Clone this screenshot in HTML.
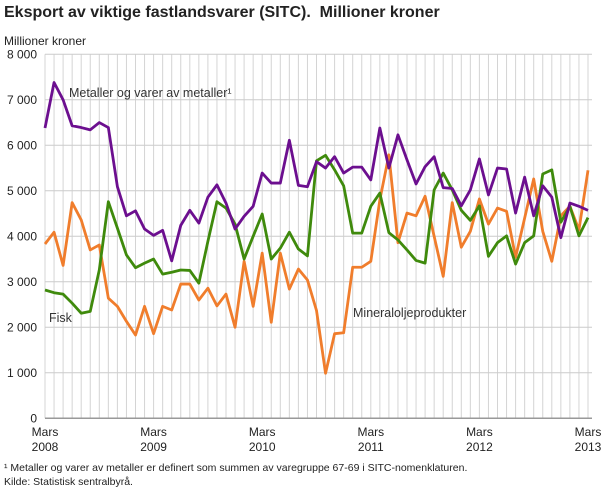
<!DOCTYPE html>
<html><head><meta charset="utf-8"><style>
body{margin:0;background:#fff;width:610px;height:488px;overflow:hidden;font-family:"Liberation Sans",sans-serif}
</style></head><body>
<svg width="610" height="488" viewBox="0 0 610 488" xmlns="http://www.w3.org/2000/svg">
<text x="4" y="17" font-size="16" font-weight="bold" fill="#222" xml:space="preserve">Eksport av viktige fastlandsvarer (SITC).  Millioner kroner</text>
<text x="4" y="45" font-size="12" fill="#222">Millioner kroner</text>
<g id="grid"></g><g id="yt"></g><g id="xt"></g><g id="lines"></g>
<text x="69" y="97" font-size="12.5" fill="#333">Metaller og varer av metaller¹</text>
<text x="49" y="322" font-size="12.5" fill="#333">Fisk</text>
<text x="353" y="317" font-size="12.5" fill="#333">Mineraloljeprodukter</text>
<text x="4" y="471" font-size="10.5" fill="#222">¹ Metaller og varer av metaller er definert som summen av varegruppe 67-69 i SITC-nomenklaturen.</text>
<text x="4" y="485" font-size="10.5" fill="#222">Kilde: Statistisk sentralbyrå.</text>
</svg>
<script>
const yTicks=[0,1000,2000,3000,4000,5000,6000,7000,8000];
const yTickLabels=["0","1 000","2 000","3 000","4 000","5 000","6 000","7 000","8 000"];
const xTickIdx=[0,12,24,36,48,60];
const xTickLabels=[["Mars","2008"],["Mars","2009"],["Mars","2010"],["Mars","2011"],["Mars","2012"],["Mars","2013"]];
const metaller=[6380,7380,7000,6430,6390,6340,6500,6390,5090,4450,4560,4160,4020,4130,3460,4240,4570,4290,4860,5130,4730,4160,4440,4660,5390,5170,5170,6110,5120,5090,5640,5500,5750,5390,5520,5520,5240,6380,5500,6230,5680,5150,5530,5750,5070,5050,4670,5020,5700,4910,5500,5480,4510,5300,4450,5110,4860,3970,4730,4660,4570];
const fisk=[2820,2760,2730,2530,2310,2350,3260,4760,4180,3590,3310,3410,3500,3170,3210,3260,3250,2970,3890,4760,4620,4270,3500,4000,4490,3500,3740,4090,3720,3570,5660,5780,5460,5110,4070,4070,4660,4950,4080,3920,3700,3470,3410,5020,5390,5020,4570,4350,4670,3560,3860,4010,3390,3860,4010,5370,5460,4310,4660,4010,4410];
const mineralolje=[3830,4090,3360,4740,4360,3700,3810,2640,2460,2130,1830,2460,1860,2460,2380,2950,2950,2600,2860,2470,2730,2000,3450,2460,3630,2110,3630,2840,3280,3040,2370,990,1860,1880,3320,3320,3450,4800,5790,3860,4510,4450,4880,4000,3120,4740,3760,4110,4820,4270,4620,4550,3540,4400,5260,4110,3450,4450,4660,4140,5450];
const NS="http://www.w3.org/2000/svg";
const x0=45,x1=588,y0=418.3,pxPer=45.5/1000;
const X=i=>x0+i*(x1-x0)/60, Y=v=>y0-v*pxPer;
function mk(t,a,p){const e=document.createElementNS(NS,t);for(const k in a)e.setAttribute(k,a[k]);document.getElementById(p).appendChild(e);return e;}
for(let i=0;i<=60;i++){
 const l=mk('line',{x1:X(i),x2:X(i),y1:Y(8000),y2:y0,stroke:'#d4d4d4','stroke-width':1},'grid');
 
 
}
yTicks.forEach((v,k)=>{
 const l=mk('line',{x1:x0,x2:592,y1:Y(v),y2:Y(v),stroke:v===0?'#999':'#ccc','stroke-width':v===0?1.5:1},'grid');
 
 
 const t=mk('text',{x:37,y:Y(v)+4,'font-size':12,'text-anchor':'end',fill:'#222'},'yt');
 t.textContent=yTickLabels[k];
 
 
});
xTickIdx.forEach((i,k)=>{
 const t1=mk('text',{x:X(i),y:436,'font-size':12,'text-anchor':'middle',fill:'#222'},'xt');
 t1.textContent=xTickLabels[k][0];
 
 
 const t2=mk('text',{x:X(i),y:451,'font-size':12,'text-anchor':'middle',fill:'#222'},'xt');
 t2.textContent=xTickLabels[k][1];
 
 
});
function series(d,c,n){
 const p=mk('polyline',{points:d.map((v,i)=>X(i)+','+Y(v)).join(' '),fill:'none',stroke:c,'stroke-width':2.8,'stroke-linejoin':'round'},'lines');
 
 
}
series(mineralolje,'#f07d2c','line-mineraloljeprodukter');
series(fisk,'#3f8a0c','line-fisk');
series(metaller,'#6c0f8f','line-metaller');
</script>
</body></html>
